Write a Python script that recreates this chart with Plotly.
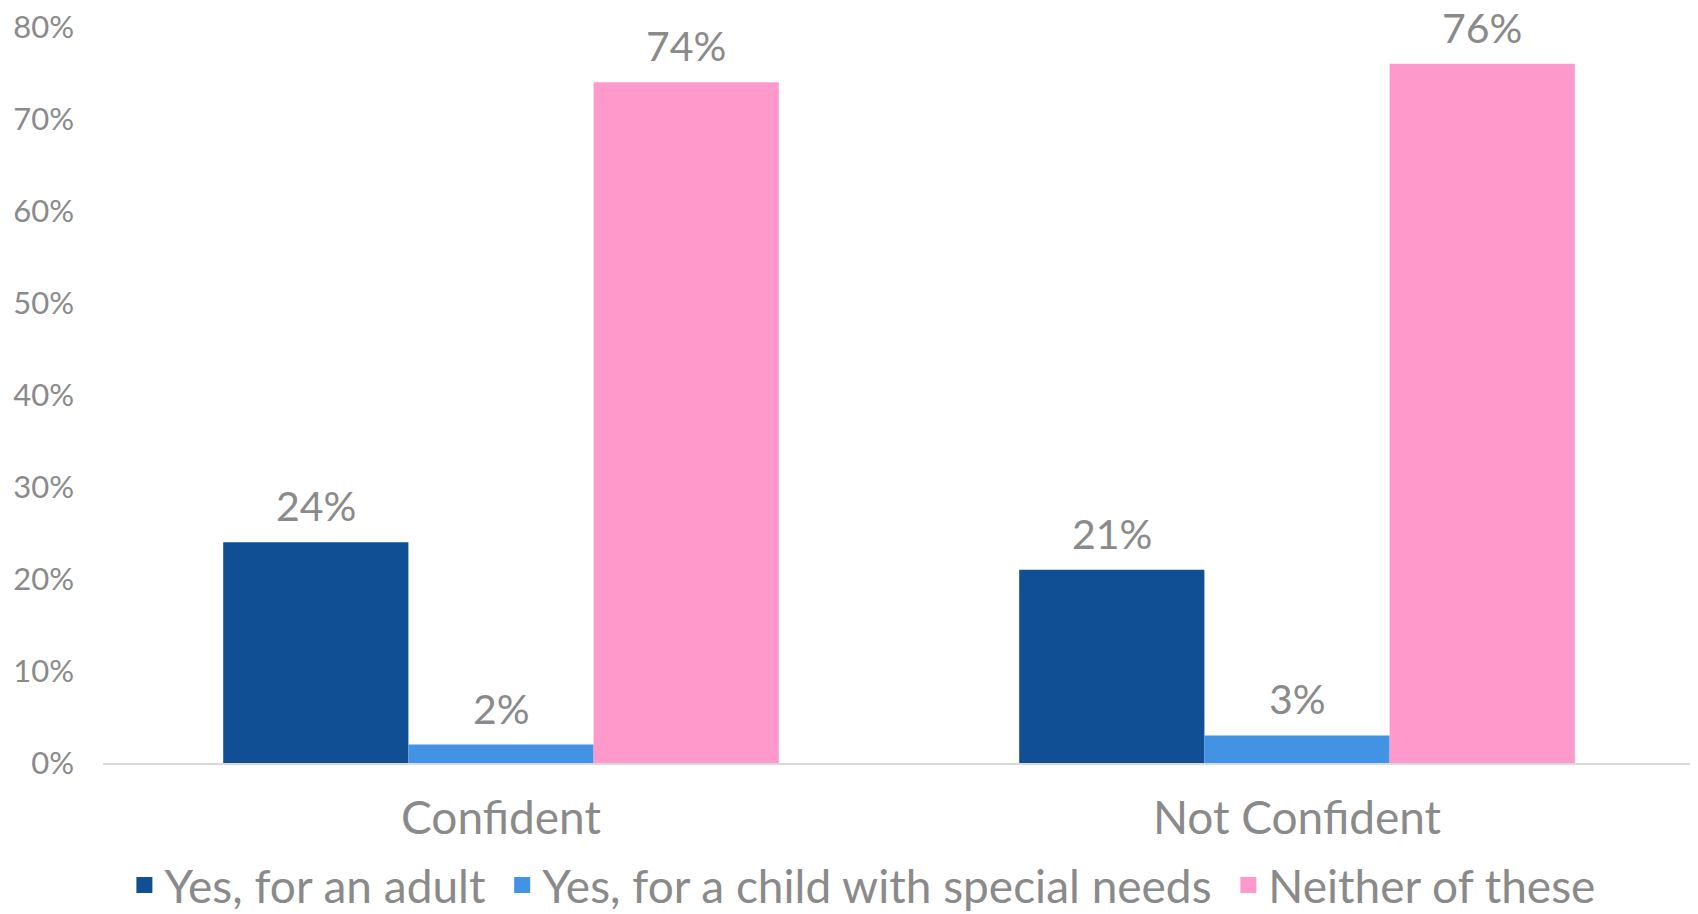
import plotly.graph_objects as go

categories = ["Confident", "Not Confident"]
series_names = ["Yes, for an adult", "Yes, for a child with special needs", "Neither of these"]
adult = [0.24, 0.21]
child_special = [0.02, 0.03]
neither = [0.74, 0.76]
tick_vals = [0, 0.1, 0.2, 0.3, 0.4, 0.5, 0.6, 0.7, 0.8]
tick_text = ["0%", "10%", "20%", "30%", "40%", "50%", "60%", "70%", "80%"]

colors = ["#114F94", "#4393E4", "#FF99CC"]
grey = "#8A8A8A"
font_family = "Century Gothic, Lato, sans-serif"

# page body has an 8px default margin, so the figure is sized to fit the window
W, H = 1690, 906
M = dict(l=95, r=3, t=19, b=151)
BARGAP = 0.302

all_series = [adult, child_special, neither]

fig = go.Figure()
for name, vals, col in zip(series_names, all_series, colors):
    fig.add_trace(go.Bar(
        x=categories, y=vals, name=name, marker=dict(color=col, line=dict(width=0)),
        showlegend=False, legendgroup=name, hoverinfo="x+y+name",
    ))
# legend entries with larger square symbols (a trailing space widens the gap between items)
for k, (name, col) in enumerate(zip(series_names, colors)):
    label = name + (" " if k < len(series_names) - 1 else "")
    fig.add_trace(go.Scatter(
        x=[None], y=[None], mode="markers", name=label, legendgroup=name,
        marker=dict(symbol="square", size=22, color=col), showlegend=True,
    ))

# value labels above bars, horizontally offset to each bar of the group
plot_w = W - M["l"] - M["r"]
bar_px = plot_w / len(categories) * (1 - BARGAP) / len(series_names)
annotations = []
for i, vals in enumerate(all_series):
    for cat, v in zip(categories, vals):
        annotations.append(dict(
            x=cat, y=v, xref="x", yref="y", text=f"{round(v * 100)}%",
            showarrow=False, yanchor="bottom", xanchor="center", borderpad=0,
            xshift=(i - (len(series_names) - 1) / 2) * bar_px, yshift=11,
            font=dict(size=41, color=grey, family=font_family),
        ))

fig.update_layout(
    width=W, height=H,
    barmode="group", bargap=BARGAP, bargroupgap=0,
    paper_bgcolor="white", plot_bgcolor="white",
    margin=dict(**M, autoexpand=False),
    font=dict(family=font_family, color=grey),
    showlegend=True,
    legend=dict(orientation="h", x=0.477, xanchor="center", y=-0.166, yanchor="middle",
                font=dict(size=46, color=grey, family=font_family),
                itemwidth=30, tracegroupgap=0),
    annotations=annotations,
)
fig.update_yaxes(range=[0, 0.8], tickvals=tick_vals, ticktext=tick_text,
                 showgrid=False, zeroline=False, showline=False, ticklabeloverflow="allow",
                 tickfont=dict(size=31, color=grey, family=font_family), ticks="", ticklabelstandoff=28)
fig.update_xaxes(showline=True, linecolor="#D9D9D9", linewidth=2, ticks="",
                 tickfont=dict(size=46, color=grey, family=font_family), ticklabelstandoff=14)

fig.write_html("out.html")
